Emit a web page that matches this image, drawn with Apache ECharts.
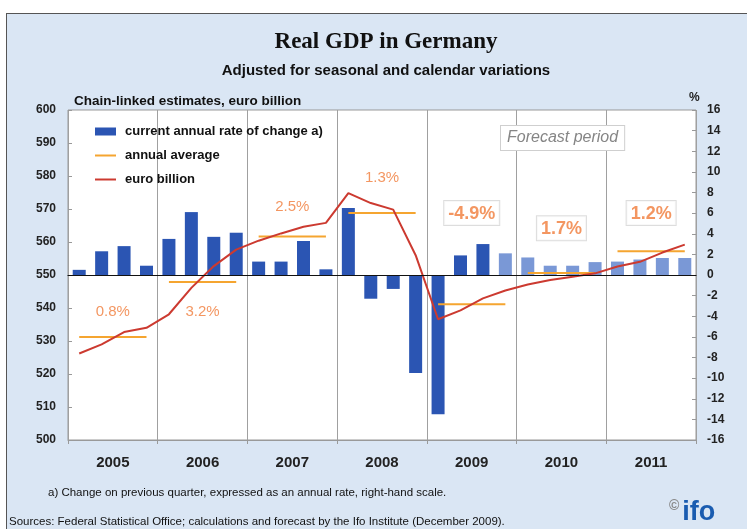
<!DOCTYPE html>
<html>
<head>
<meta charset="utf-8">
<script src="https://cdn.jsdelivr.net/npm/echarts@6/dist/echarts.min.js"></script>
<style>
  body { margin: 0; background: #fff; }
  .panel {
    position: absolute; left: 6px; top: 13px; width: 760px; height: 530px;
    background: #dae6f4; border: 1px solid #555;
  }
  #chart { position: absolute; left: 0; top: 0; width: 747px; height: 529px; }
</style>
</head>
<body>
<div class="panel"></div>
<div id="chart"></div>
<script>
  // quarters 2005 Q1 .. 2011 Q4
  const years = ['2005', '2006', '2007', '2008', '2009', '2010', '2011']
  const quarters = []
  years.forEach(y => { for (let q = 1; q <= 4; q++) quarters.push(y + ' Q' + q) })

  // current annual rate of change, % (right-hand scale)
  const rateOfChange = [0.5, 2.3, 2.8, 0.9, 3.5, 6.1, 3.7, 4.1, 1.3, 1.3, 3.3, 0.55,
    6.5, -2.3, -1.35, -9.5, -13.5, 1.9, 3.0, 2.1, 1.7, 0.9, 0.9, 1.25, 1.3, 1.5, 1.65, 1.65]
  // GDP, euro billion (left-hand scale)
  const euroBillion = [526.2, 529.0, 532.7, 534.0, 538.1, 546.1, 552.7, 557.7, 560.4, 562.6,
    564.6, 565.8, 574.8, 571.8, 569.8, 556.0, 536.6, 539.3, 542.9, 545.3, 547.1, 548.5,
    549.5, 550.5, 552.6, 554.0, 556.8, 559.2]
  // annual average, euro billion
  const annualAverage = [531.2, 547.9, 561.7, 568.8, 541.1, 550.6, 557.2]
  // annual growth labels and where they sit (left-hand scale)
  const annualGrowth = ['0.8%', '3.2%', '2.5%', '1.3%', '-4.9%', '1.7%', '1.2%']
  const growthLabelAt = [538.8, 538.8, 570.6, 579.4, 568.8, 564.2, 568.8]
  const forecastFrom = 19 // 2009 Q4

  const leftTicks = [500, 600, 10]
  const rightTicks = [-16, 16, 2]

  const font = 'Liberation Sans, Arial, sans-serif'
  const orange = '#f07c3a'

  const avgSeries = years.map((y, k) => ({
    name: 'annual average',
    type: 'line',
    xAxisIndex: 0,
    yAxisIndex: 0,
    symbol: 'none',
    lineStyle: { color: '#f5a530', width: 2 },
    itemStyle: { color: '#f5a530' },
    z: 3,
    data: quarters.map((q, i) => Math.floor(i / 4) === k ? annualAverage[k] : null)
  }))

  const option = {
    animation: false,
    textStyle: { fontFamily: font },
    title: [
      { text: 'Real GDP in Germany', left: 381, top: 26, textAlign: 'center',
        textStyle: { fontFamily: 'Liberation Serif, Times New Roman, serif', fontSize: 23, fontWeight: 'bold', color: '#111' } },
      { text: 'Adjusted for seasonal and calendar variations', left: 381, top: 58, textAlign: 'center',
        textStyle: { fontSize: 15, fontWeight: 'bold', color: '#111' } },
      { text: 'Chain-linked estimates, euro billion', left: 69, top: 89,
        textStyle: { fontSize: 13.5, fontWeight: 'bold', color: '#111' } },
      { text: '%', left: 684, top: 87, textStyle: { fontSize: 12, fontWeight: 'bold', color: '#222' } },
      { text: 'a) Change on previous quarter, expressed as an annual rate, right-hand scale.', left: 43, top: 482,
        textStyle: { fontSize: 11.5, fontWeight: 'normal', color: '#111' } },
      { text: 'Sources: Federal Statistical Office; calculations and forecast by the Ifo Institute (December 2009).', left: 4, top: 511,
        textStyle: { fontSize: 11.5, fontWeight: 'normal', color: '#111' } },
      { text: '{c|©}{i|ifo}', left: 664, top: 494,
        textStyle: { rich: {
          c: { fontSize: 14, color: '#888', verticalAlign: 'top', padding: [0, 3, 10, 0] },
          i: { fontSize: 27, fontWeight: 'bold', color: '#1a5cb0' }
        } } }
    ],
    legend: {
      left: 89, top: 120, orient: 'vertical', itemGap: 11,
      itemWidth: 21, itemHeight: 8,
      textStyle: { fontSize: 13, fontWeight: 'bold', color: '#111', padding: [0, 0, 0, 4] },
      data: [
        { name: 'current annual rate of change a)', icon: 'rect' },
        { name: 'annual average', itemStyle: { opacity: 0 } },
        { name: 'euro billion', itemStyle: { opacity: 0 } }
      ]
    },
    grid: {
      left: 68, right: 51, top: 110, bottom: 89,
      show: true, backgroundColor: '#fff', borderColor: '#999', borderWidth: 1
    },
    xAxis: [
      {
        type: 'category', data: quarters, position: 'bottom',
        axisLine: { show: true, onZero: true, onZeroAxisIndex: 1, lineStyle: { color: '#111', width: 1.2 } },
        axisTick: { show: false }, axisLabel: { show: false }, splitLine: { show: false }, z: 5
      },
      {
        type: 'category', data: years, position: 'bottom',
        axisLine: { show: true, onZero: false, lineStyle: { color: '#999' } },
        axisTick: { show: true, length: 4, lineStyle: { color: '#999' } },
        axisLabel: { margin: 15, fontSize: 15, fontWeight: 'bold', color: '#222' },
        splitLine: { show: true, lineStyle: { color: '#a0a0a0', width: 1 } }
      }
    ],
    yAxis: [
      {
        type: 'value', min: leftTicks[0], max: leftTicks[1], interval: leftTicks[2], position: 'left',
        axisLine: { show: false },
        axisTick: { show: true, inside: true, length: 4, lineStyle: { color: '#999' } },
        axisLabel: { margin: 12, fontSize: 12, fontWeight: 'bold', color: '#222' },
        splitLine: { show: false }
      },
      {
        type: 'value', min: rightTicks[0], max: rightTicks[1], interval: rightTicks[2], position: 'right',
        axisLine: { show: false },
        axisTick: { show: true, inside: true, length: 4, lineStyle: { color: '#999' } },
        axisLabel: { margin: 11, fontSize: 12, fontWeight: 'bold', color: '#222' },
        splitLine: { show: false }
      }
    ],
    graphic: [
      {
        type: 'text', left: 500, top: 125, z: 10,
        style: {
          text: 'Forecast period', fontFamily: font, fontSize: 16, fontStyle: 'italic',
          fill: '#858585', padding: [4, 6, 4, 6], borderColor: '#cfcfcf', borderWidth: 1,
          backgroundColor: '#fff'
        }
      }
    ],
    series: [
      {
        name: 'current annual rate of change a)',
        type: 'bar', xAxisIndex: 0, yAxisIndex: 1, barWidth: 13,
        itemStyle: { color: '#2b55b3' },
        data: rateOfChange.map((v, i) => i >= forecastFrom
          ? { value: v, itemStyle: { color: '#7a98d6' } } : v)
      },
      ...avgSeries,
      {
        name: 'euro billion',
        type: 'line', xAxisIndex: 0, yAxisIndex: 0, symbol: 'none', z: 4,
        lineStyle: { color: '#cc3a30', width: 2 },
        itemStyle: { color: '#cc3a30' },
        data: euroBillion
      },
      {
        name: 'growth',
        type: 'scatter', xAxisIndex: 1, yAxisIndex: 0, symbolSize: 0, z: 6, silent: true,
        label: {
          show: true, position: 'inside',
          formatter: p => p.dataIndex >= 4 ? '{b|' + annualGrowth[p.dataIndex] + '}' : '{a|' + annualGrowth[p.dataIndex] + '}',
          rich: {
            a: { fontSize: 15, color: orange, fontFamily: font },
            b: { fontSize: 18, fontWeight: 'bold', color: orange, fontFamily: font,
                 borderColor: '#d4d4d4', borderWidth: 1, padding: [4, 4, 2, 4], backgroundColor: '#fff' }
          }
        },
        data: growthLabelAt
      }
    ]
  }

  const chart = echarts.init(document.getElementById('chart'))
  chart.setOption(option)
</script>
</body>
</html>
